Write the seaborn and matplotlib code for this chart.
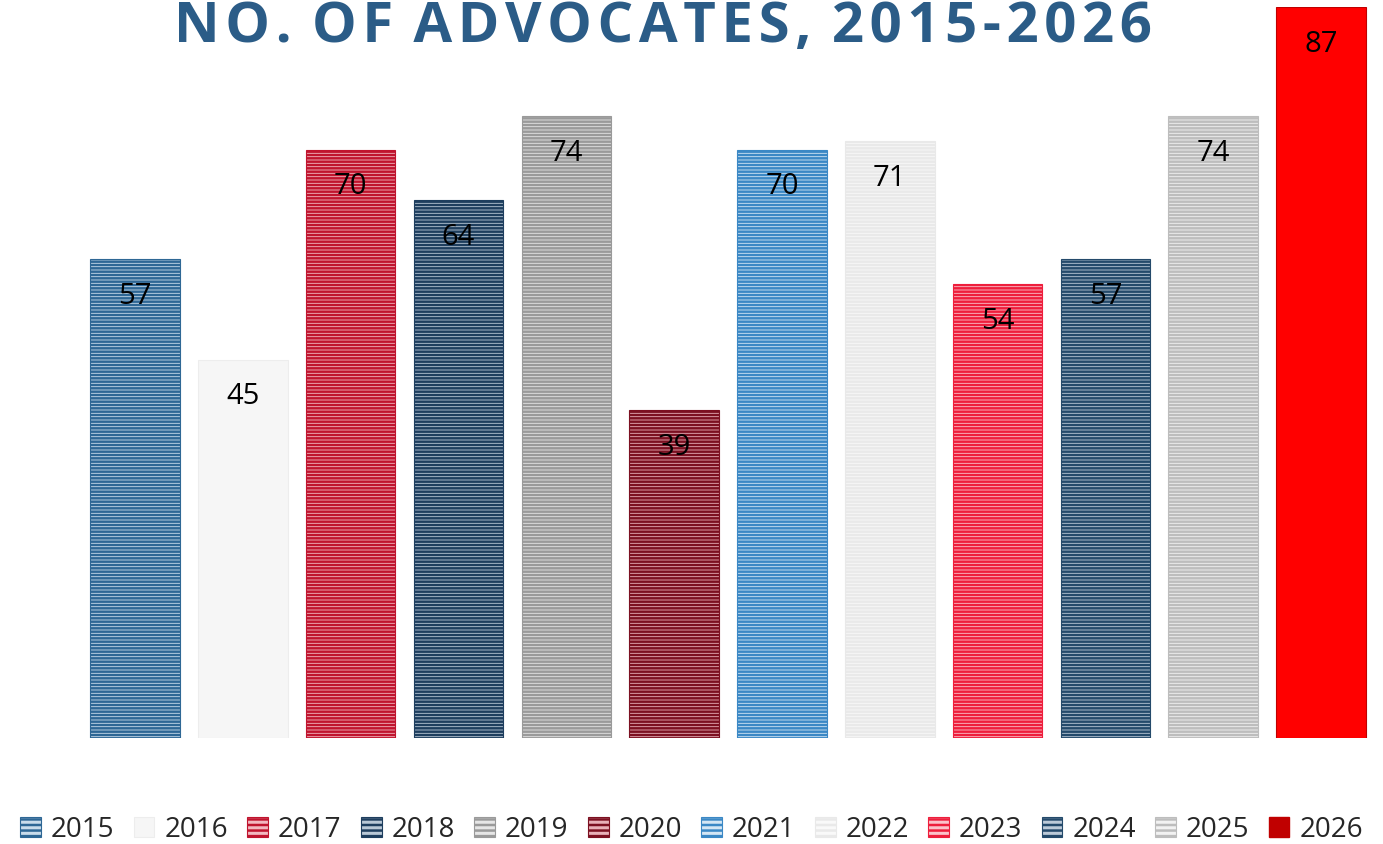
import pandas as pd
import seaborn as sns
import matplotlib.pyplot as plt
from matplotlib.patches import Patch

# Values
years = ["2015", "2016", "2017", "2018", "2019", "2020",
         "2021", "2022", "2023", "2024", "2025", "2026"]
advocates = [57, 45, 70, 64, 74, 39, 70, 71, 54, 57, 74, 87]

# face colour, stripe colour, hatch
faces = ["#C9DCEB", "#F6F6F6", "#F2B8C0", "#B9C8D6", "#E6E6E6", "#E8B0B8",
         "#D4E6F4", "#F9F9F9", "#FBC2CA", "#BCCAD8", "#F2F2F2", "#FF0000"]
stripes = ["#2E6795", "#EDEDED", "#C0142E", "#1E3E5E", "#9A9A9A", "#7C1021",
           "#3B88C5", "#E9E9E9", "#EE1E3C", "#244A6B", "#BDBDBD", "#C00000"]
hatches = ["-----", "", "-----", "-----", "-----", "-----",
           "-----", "-----", "-----", "-----", "-----", ""]

df = pd.DataFrame({"year": years, "advocates": advocates})

sns.set_style("white")
plt.rcParams["font.family"] = ["Open Sans", "DejaVu Sans"]
plt.rcParams["hatch.linewidth"] = 1.8

fig = plt.figure(figsize=(13.83, 8.44), dpi=100)
ax = fig.add_axes([0.0586, 0.1256, 0.9356, 0.8661])

sns.barplot(data=df, x="year", y="advocates", hue="year",
            palette=faces, width=0.83, legend=False, ax=ax)

for bar, fc, ec, h, v in zip(ax.patches, faces, stripes, hatches, advocates):
    bar.set_facecolor(fc)
    bar.set_edgecolor(ec)
    bar.set_hatch(h)
    bar.set_linewidth(0.8)
    ax.annotate(str(v), (bar.get_x() + bar.get_width() / 2, v),
                xytext=(0, -37), textcoords="offset pixels",
                ha="center", va="center", fontsize=21, color="black")

ax.set_xlim(-0.5, len(years) - 0.5)
ax.set_ylim(0, 87)
ax.set_xlabel("")
ax.set_ylabel("")
ax.set_xticks([])
ax.set_yticks([])
sns.despine(ax=ax, left=True, bottom=True)

title = "NO. OF ADVOCATES, 2015-2026"
spaced = "\u200a".join(title).replace("\u200a \u200a", " \u200a")
fig.text(0.479, 0.967, spaced, ha="center", va="center",
         fontsize=40.5, fontweight="bold", color="#2B5C87")

handles = [Patch(facecolor=fc, edgecolor=ec, hatch=h.replace("-----", "---"), linewidth=0.8)
           for fc, ec, h in zip(faces, stripes, hatches)]
handles[-1] = Patch(facecolor="#C00000", edgecolor="#C00000")
fig.legend(handles, years, loc="center", bbox_to_anchor=(0.5, 0.017), ncol=12,
           frameon=False, fontsize=20, handlelength=0.75, handleheight=0.75,
           handletextpad=0.35, columnspacing=0.7, borderaxespad=0)

fig.savefig("out.png", dpi=100)
